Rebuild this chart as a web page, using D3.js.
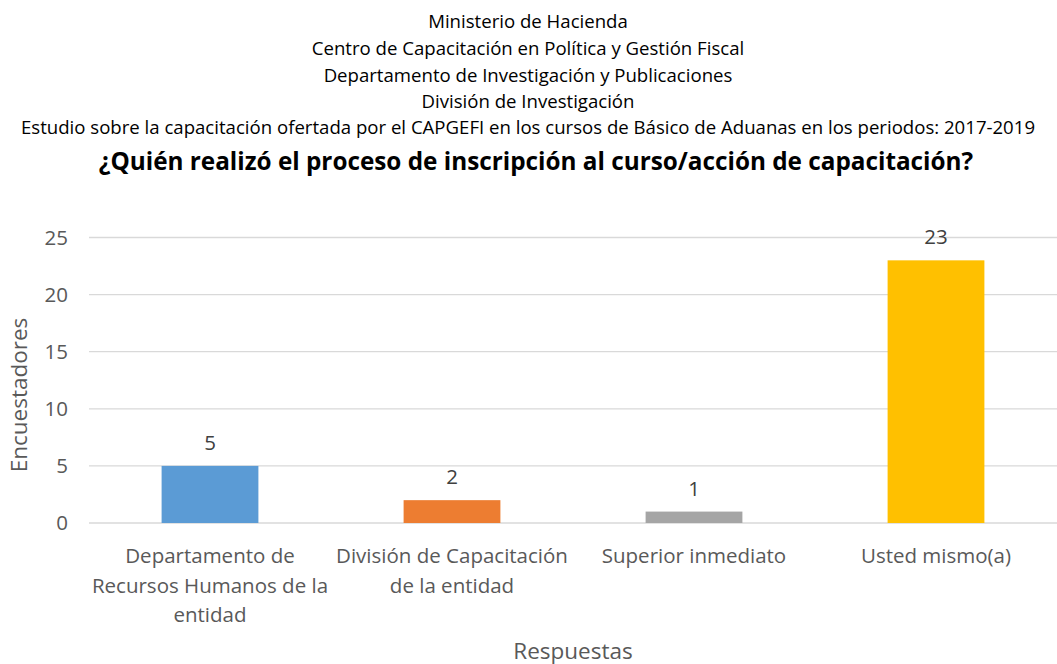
<!DOCTYPE html>
<html><head><meta charset="utf-8">
<script src="https://cdn.jsdelivr.net/npm/d3@7"></script>
<style>body{margin:0;background:#fff}svg{display:block}</style>
</head><body>
<svg id="c" width="1057" height="664"></svg>
<script>
const titleLines = ["Ministerio de Hacienda","Centro de Capacitación en Política y Gestión Fiscal","Departamento de Investigación y Publicaciones","División de Investigación","Estudio sobre la capacitación ofertada por el CAPGEFI en los cursos de Básico de Aduanas en los periodos: 2017-2019"];
const mainTitle = "¿Quién realizó el proceso de inscripción al curso/acción de capacitación?";
const categories = ["Departamento de Recursos Humanos de la entidad","División de Capacitación de la entidad","Superior inmediato","Usted mismo(a)"];
const values = [5,2,1,23];
const colors = ["#5B9BD5","#ED7D31","#A5A5A5","#FFC000"];
const yTicks = [0,5,10,15,20,25];
const yLabel = "Encuestadores";
const xLabel = "Respuestas";

(function(){
const svg = d3.select("#c");
const font = "'Open Sans', 'Noto Sans', sans-serif";
const pLeft = 89, pRight = 1057, pTop = 237.5, pBottom = 523;

// Titles
const tY = [20,47,74,100,126];
titleLines.forEach((t,i)=>{
  svg.append("text").attr("x",528).attr("y",tY[i]).attr("text-anchor","middle")
    .attr("dominant-baseline","central").attr("font-family",font).attr("font-size",18.6)
    .attr("fill","#000").text(t);
});
svg.append("text").attr("x",536).attr("y",160).attr("text-anchor","middle")
  .attr("dominant-baseline","central").attr("font-family",font).attr("font-size",24.3)
  .attr("font-weight","bold").attr("fill","#000").text(mainTitle);

const x = d3.scaleBand().domain(categories).range([pLeft,pRight]).paddingInner(0.6).paddingOuter(0.3);
const y = d3.scaleLinear().domain([0,25]).range([pBottom,pTop]);

// gridlines
svg.append("g").selectAll("line").data(yTicks).join("line")
  .attr("x1",pLeft).attr("x2",pRight).attr("y1",d=>y(d)).attr("y2",d=>y(d))
  .attr("stroke","#D9D9D9").attr("stroke-width",1.3);

// y axis
const yAxis = d3.axisLeft(y).tickValues(yTicks).tickSize(0).tickPadding(0);
const ga = svg.append("g").attr("transform",`translate(68,0)`).call(yAxis);
ga.select(".domain").remove();
ga.selectAll("text").attr("font-family",font).attr("font-size",20.5).attr("fill","#595959");

// bars
svg.append("g").selectAll("rect").data(categories).join("rect")
  .attr("x",d=>x(d)).attr("width",x.bandwidth())
  .attr("y",(d,i)=>y(values[i])).attr("height",(d,i)=>y(0)-y(values[i]))
  .attr("fill",(d,i)=>colors[i]);

// data labels
svg.append("g").selectAll("text").data(categories).join("text")
  .attr("x",d=>x(d)+x.bandwidth()/2).attr("y",(d,i)=>y(values[i])-24)
  .attr("text-anchor","middle").attr("dominant-baseline","central")
  .attr("font-family",font).attr("font-size",20.5).attr("fill","#404040")
  .text((d,i)=>values[i]);

// x axis labels with wrapping
const step = x.step();
categories.forEach(c=>{
  const cx = x(c)+x.bandwidth()/2;
  const words = c.split(" ");
  const t = svg.append("text").attr("text-anchor","middle").attr("font-family",font)
    .attr("font-size",20.5).attr("fill","#595959");
  let lines=[], cur=[];
  const probe = t.append("tspan");
  words.forEach(w=>{
    const trial = cur.concat([w]).join(" ");
    probe.text(trial);
    if (probe.node().getComputedTextLength() > step-2 && cur.length){ lines.push(cur.join(" ")); cur=[w]; }
    else cur.push(w);
  });
  lines.push(cur.join(" "));
  probe.remove();
  lines.forEach((l,i)=>{
    t.append("tspan").attr("x",cx).attr("y",555+i*29.5).attr("dominant-baseline","central").text(l);
  });
});

// axis titles
svg.append("text").attr("transform","translate(18,395) rotate(-90)").attr("text-anchor","middle")
  .attr("dominant-baseline","central").attr("font-family",font).attr("font-size",22.5).attr("fill","#595959").text(yLabel);
svg.append("text").attr("x",573).attr("y",650).attr("text-anchor","middle")
  .attr("dominant-baseline","central").attr("font-family",font).attr("font-size",22.5).attr("fill","#595959").text(xLabel);
})();
</script>
</body></html>
